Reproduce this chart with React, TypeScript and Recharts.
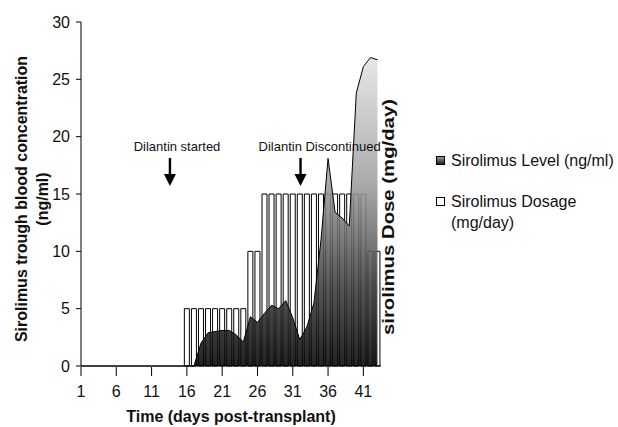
import { ComposedChart, Bar, Area, XAxis, YAxis, Legend, ReferenceDot } from "recharts";

const days: number[] = [
  1, 2, 3, 4, 5, 6, 7, 8, 9, 10, 11, 12, 13, 14, 15, 16, 17, 18, 19, 20, 21, 22,
  23, 24, 25, 26, 27, 28, 29, 30, 31, 32, 33, 34, 35, 36, 37, 38, 39, 40, 41, 42, 43,
];

// sirolimus dosage (mg/day), one bar per day
const dosage: number[] = [
  0, 0, 0, 0, 0, 0, 0, 0, 0, 0, 0, 0, 0, 0, 0, 5, 5, 5, 5, 5, 5, 5,
  5, 5, 10, 10, 15, 15, 15, 15, 15, 15, 15, 15, 15, 15, 15, 15, 15, 15, 15, 10, 10,
];

// sirolimus trough level (ng/ml)
const level: number[] = [
  0, 0, 0, 0, 0, 0, 0, 0, 0, 0, 0, 0, 0, 0, 0, 0, 0, 2.0, 2.9, 3.0, 3.1, 3.1,
  2.7, 2.1, 4.3, 3.8, 4.6, 5.3, 5.0, 5.7, 4.2, 2.3, 3.4, 5.5, 11.0, 18.1, 13.4, 12.9, 12.2, 23.8, 26.1, 26.9, 26.7,
];

const xTicks: number[] = [1, 6, 11, 16, 21, 26, 31, 36, 41];
const yTicks: number[] = [0, 5, 10, 15, 20, 25, 30];

const notes = [
  { day: 13.6, tip: 15.7, text: "Dilantin started", textDay: 14.6, textLevel: 19.1 },
  { day: 32.1, tip: 15.7, text: "Dilantin Discontinued", textDay: 34.8, textLevel: 19.1 },
];

const chartData = days.map((day, i) => ({ day, dosage: dosage[i], level: level[i] }));

const FONT = "'Liberation Sans', Arial, Helvetica, sans-serif";

const Arrow = (props: any) => {
  const { cx, cy } = props;
  return (
    <g>
      <rect x={cx - 1.2} y={cy - 28} width={2.4} height={17} fill="#000" />
      <polygon points={`${cx - 6},${cy - 12} ${cx + 6},${cy - 12} ${cx},${cy}`} fill="#000" />
    </g>
  );
};

const noteText = (text: string) => (props: any) => (
  <text
    x={props.cx}
    y={props.cy}
    textAnchor="middle"
    dominantBaseline="central"
    fontSize={13}
    fontFamily={FONT}
    fill="#111"
  >
    {text}
  </text>
);

// x ticks cross the axis line like the original
const XTick = (props: any) => {
  const { x, y, payload } = props;
  return (
    <g>
      <line x1={x} x2={x} y1={y - 24} y2={y - 15} stroke="#000" />
      <text x={x} y={y} textAnchor="middle" dominantBaseline="central" fontSize={16} fontFamily={FONT} fill="#111">
        {payload.value}
      </text>
    </g>
  );
};

const LeftTitle = (props: any) => {
  const { x, y, height } = props.viewBox;
  const cy = y + height / 2 + 5;
  const style = { fontSize: 16, fontWeight: 700, fontFamily: FONT, fill: "#111" };
  return (
    <g>
      <text x={x + 21} y={cy} transform={`rotate(-90, ${x + 21}, ${cy})`} textAnchor="middle" dominantBaseline="central" {...style}>
        Sirolimus trough blood concentration
      </text>
      <text x={x + 42} y={cy} transform={`rotate(-90, ${x + 42}, ${cy})`} textAnchor="middle" dominantBaseline="central" {...style}>
        (ng/ml)
      </text>
    </g>
  );
};

const RightTitle = (props: any) => {
  const { x, y, height } = props.viewBox;
  const cx = x + 7;
  const cy = y + height / 2 + 23;
  return (
    <text
      x={cx}
      y={cy}
      transform={`rotate(-90, ${cx}, ${cy})`}
      textAnchor="middle"
      dominantBaseline="central"
      fontSize={16}
      fontWeight={700}
      fontFamily={FONT}
      fill="#111"
      textLength={236}
      lengthAdjust="spacingAndGlyphs"
    >
      sirolimus Dose (mg/day)
    </text>
  );
};

const BottomTitle = (props: any) => {
  const { x, y, width } = props.viewBox;
  return (
    <text x={x + width / 2} y={y + 50} textAnchor="middle" dominantBaseline="central" fontSize={16} fontWeight={700} fontFamily={FONT} fill="#111">
      Time (days post-transplant)
    </text>
  );
};

const LegendBox = () => (
  <div style={{ fontFamily: FONT, fontSize: 16, lineHeight: "21px", color: "#111" }}>
    <div style={{ display: "flex", alignItems: "center" }}>
      <span style={{ width: 7, height: 7, border: "1px solid #000", background: "linear-gradient(#999, #222)", marginRight: 6 }} />
      Sirolimus Level (ng/ml)
    </div>
    <div style={{ display: "flex", alignItems: "flex-start", marginTop: 20 }}>
      <span style={{ width: 7, height: 7, border: "1px solid #000", background: "#fff", marginRight: 6, marginTop: 6 }} />
      <span>
        Sirolimus Dosage
        <br />
        (mg/day)
      </span>
    </div>
  </div>
);

const App = () => (
  <div style={{ position: "absolute", left: 0, top: 0, background: "#fff" }}>
    <ComposedChart width={618} height={427} data={chartData} margin={{ top: 22, right: 217, bottom: 0, left: 0 }}>
      <defs>
        <linearGradient id="lvlFill" x1="0" y1="0" x2="0" y2="1">
          <stop offset="0%" stopColor="#e4e4e4" />
          <stop offset="40%" stopColor="#a0a0a0" />
          <stop offset="72%" stopColor="#444" />
          <stop offset="100%" stopColor="#050505" />
        </linearGradient>
      </defs>
      <XAxis
        dataKey="day"
        type="number"
        domain={[1, 43.5]}
        ticks={xTicks}
        height={61}
        tickLine={false}
        tickSize={5}
        tickMargin={20}
        stroke="#000"
        tick={XTick}
        label={{ content: BottomTitle }}
      />
      <YAxis
        domain={[0, 30]}
        ticks={yTicks}
        width={81}
        tickSize={5}
        tickMargin={6}
        stroke="#000"
        tick={{ fontSize: 16, fontFamily: FONT, fill: "#111" }}
        label={{ content: LeftTitle }}
      />
      <YAxis
        yAxisId="r"
        orientation="right"
        domain={[0, 30]}
        width={20}
        tick={false}
        tickLine={false}
        axisLine={false}
        label={{ content: RightTitle }}
      />
      <Legend
        layout="vertical"
        align="center"
        verticalAlign="middle"
        content={LegendBox}
        wrapperStyle={{ left: 436, top: 150, width: 182 }}
      />
      <Bar dataKey="dosage" barSize={5} fill="#fff" stroke="#000" strokeWidth={1} isAnimationActive={false} zIndex={300} />
      <Area
        type="linear"
        dataKey="level"
        stroke="#000"
        strokeWidth={1}
        fill="url(#lvlFill)"
        fillOpacity={0.88}
        isAnimationActive={false}
        zIndex={350}
      />
      {notes.map((n) => (
        <ReferenceDot key={n.text + "a"} x={n.day} y={n.tip} r={0} shape={Arrow} />
      ))}
      {notes.map((n) => (
        <ReferenceDot key={n.text + "t"} x={n.textDay} y={n.textLevel} r={0} shape={noteText(n.text)} />
      ))}
    </ComposedChart>
  </div>
);

export default App;
